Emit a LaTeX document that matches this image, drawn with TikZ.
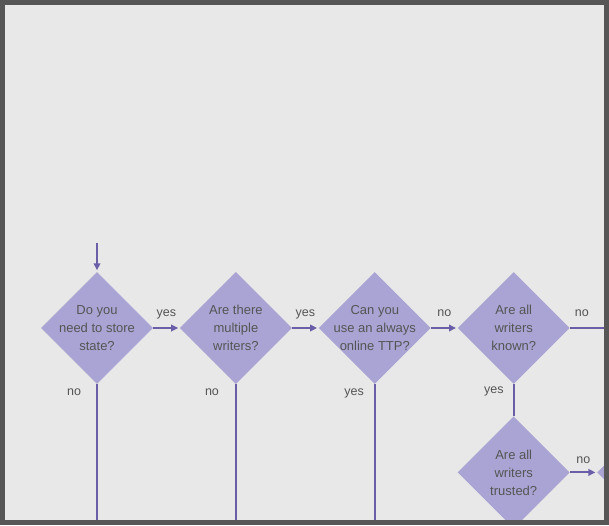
\documentclass[tikz,border=0pt]{standalone}
\usepackage{fontspec}
\setmainfont{Liberation Sans}
\usetikzlibrary{shapes.geometric,positioning,arrows.meta}
\definecolor{bgcol}{HTML}{E8E8E8}
\definecolor{framecol}{HTML}{565656}
\definecolor{boxcol}{HTML}{A9A4D3}
\definecolor{linecol}{HTML}{6A5EA8}
\definecolor{txtcol}{HTML}{555555}
\begin{document}
\begin{tikzpicture}[x=1pt,y=-1pt,
        question/.style = {
            diamond,
            fill=boxcol,
            inner sep=0pt,
            minimum width=112pt,
            minimum height=112pt,
            label={[align=center, text=txtcol, font=\fontsize{13}{18}\selectfont]center:#1}
        },
        flow/.style = {draw=linecol, line width=2pt},
        go/.style = {flow, -{Triangle[length=7pt,width=6.5pt]}, shorten >=1.5pt},
        ans/.style = {text=txtcol, inner sep=0pt, text depth=0pt, font=\fontsize{12.5}{15}\selectfont},
        node distance=26.5pt]

        \useasboundingbox (0,0) rectangle (609,525);
        \fill[bgcol] (0,0) rectangle (609,525);

        \begin{scope}
        \clip (5,5) rectangle (604,520);

        \node[question={Do you\\need to store\\state?}] (store) at (97,328) {};
        \node[question={Are there\\multiple\\writers?}, right=of store] (multi) {};
        \node[question={Can you\\use an always\\online TTP?}, right=of multi] (ttp) {};
        \node[question={Are all\\writers\\known?}, right=of ttp] (known) {};
        \node[question={Are all\\writers\\trusted?}, below=32pt of known] (trusted) {};
        \node[question={}, right=27pt of trusted] (next) {};

        \coordinate[above=29pt of store] (start);
        \path (store.south) ++(0,150) coordinate (storeend);
        \path (multi.south) ++(0,150) coordinate (multiend);
        \path (ttp.south) ++(0,150) coordinate (ttpend);
        \path (known.east) ++(36,0) coordinate (knownend);

        \draw[go] (start) -- (store.north);
        \draw[go] (store.east) -- (multi.west) node[ans, midway, above=11pt] {yes};
        \draw[go] (multi.east) -- (ttp.west) node[ans, midway, above=11pt] {yes};
        \draw[go] (ttp.east) -- (known.west) node[ans, midway, above=11pt] {no};
        \draw[flow] (known.east) -- (knownend) node[ans, pos=0.33, above=11pt] {no};
        \draw[go] (trusted.east) -- (next.west) node[ans, midway, above=8pt] {no};

        \draw[flow] (store.south) -- (storeend) node[ans, pos=0.05, left=15pt] {no};
        \draw[flow] (multi.south) -- (multiend) node[ans, pos=0.05, left=16pt] {no};
        \draw[flow] (ttp.south) -- (ttpend) node[ans, pos=0.05, left=10pt] {yes};
        \draw[flow, line width=2.4pt] (known.south) -- (trusted.north) node[ans, pos=0.17, left=9pt] {yes};
        \end{scope}

        \draw[framecol, line width=5pt] (2.5,2.5) rectangle (606.5,522.5);
    \end{tikzpicture}
\end{document}
